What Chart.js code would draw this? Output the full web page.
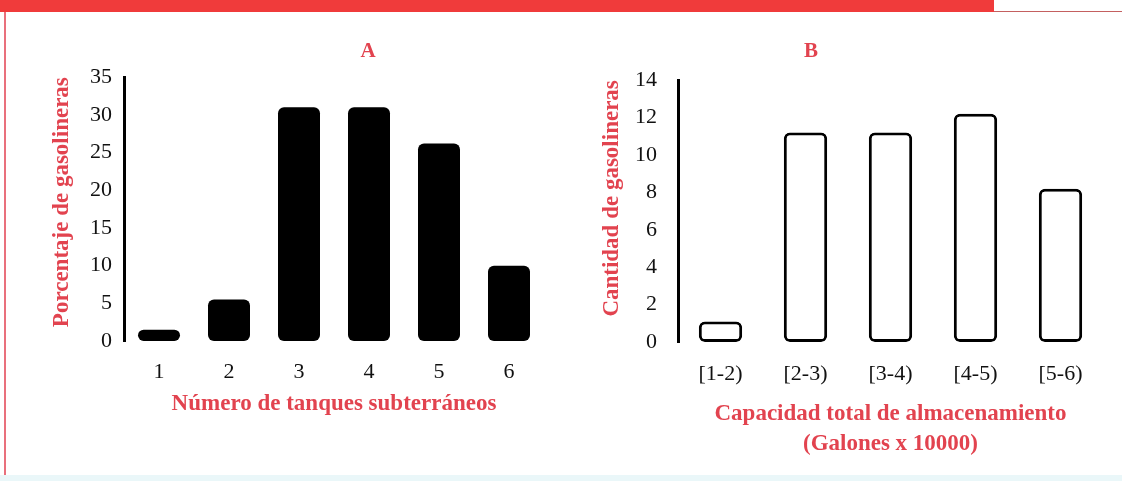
<!DOCTYPE html>
<html>
<head>
<meta charset="utf-8">
<script src="https://cdn.jsdelivr.net/npm/chart.js@4.4.1/dist/chart.umd.min.js"></script>
<style>
  html, body { margin: 0; padding: 0; background: #fff; }
  body { width: 1122px; height: 481px; position: relative; overflow: hidden; }
  .head { position: absolute; left: 0; top: 0; width: 994px; height: 12px; background: #f03b3b; }
  .headline { position: absolute; left: 994px; top: 11px; width: 128px; height: 1px; background: #c46060; }
  .side { position: absolute; left: 4px; top: 12px; width: 2px; height: 464px; background: #e9707c; }
  .foot { position: absolute; left: 0; top: 475px; width: 1122px; height: 6px; background: #eaf7f9; }
  #chartA { position: absolute; left: 40px; top: 30px; }
  #chartB { position: absolute; left: 519px; top: 30px; }
</style>
</head>
<body>
<div class="head"></div>
<div class="headline"></div>
<div class="side"></div>
<div class="foot"></div>
<canvas id="chartA" width="656" height="388"></canvas>
<canvas id="chartB" width="603" height="429"></canvas>
<script>
// Panel A: percentage of stations by number of underground tanks
const tanques = ['1', '2', '3', '4', '5', '6'];
const porcentaje = [1.5, 5.5, 31, 31, 26.2, 10];

// Panel B: number of stations by total storage capacity
const capacidades = ['[1-2)', '[2-3)', '[3-4)', '[4-5)', '[5-6)'];
const cantidad = [1.1, 11.2, 11.2, 12.2, 8.2];

const RED = '#e2434f';
const INK = '#111';
const SERIF = '"Liberation Serif", "Times New Roman", serif';

function tickFont() {
    return { family: SERIF, size: 22, lineHeight: 1.2 };
}
function titleFont(lh) {
    return { family: SERIF, size: 23, weight: 'bold', lineHeight: lh || 1.2 };
}

new Chart(document.getElementById('chartA'), {
    type: 'bar',
    data: {
        labels: tanques,
        datasets: [{
            data: porcentaje,
            backgroundColor: '#000',
            borderRadius: 6,
            borderSkipped: false,
            barPercentage: 0.6,
            categoryPercentage: 1
        }]
    },
    options: {
        responsive: false,
        animation: false,
        plugins: {
            legend: { display: false },
            tooltip: { enabled: false },
            title: {
                display: true,
                text: 'A',
                color: RED,
                font: { family: SERIF, size: 21, weight: 'bold', lineHeight: 1.2 },
                padding: { top: 9, bottom: 13 }
            }
        },
        scales: {
            x: {
                grid: { display: false },
                border: { display: false },
                ticks: { color: INK, font: tickFont(), padding: 10 },
                title: {
                    display: true,
                    text: 'Número de tanques subterráneos',
                    color: RED,
                    font: titleFont(),
                    padding: { top: 8, bottom: 0 }
                },
                afterFit: function(scale) { scale.height = 77; }
            },
            y: {
                min: 0,
                max: 35,
                grid: { display: false },
                border: { display: true, color: '#000', width: 3 },
                ticks: { stepSize: 5, color: INK, font: tickFont(), padding: 4 },
                title: {
                    display: true,
                    text: 'Porcentaje de gasolineras',
                    align: 'end',
                    color: RED,
                    font: titleFont(),
                    padding: { top: 8, bottom: 0 }
                },
                afterFit: function(scale) { scale.width = 84; }
            },
            // empty box on the right so the panel title sits where it does in the figure
            spacer: {
                type: 'linear',
                position: 'right',
                grid: { display: false },
                border: { display: false },
                ticks: { display: false },
                afterFit: function(scale) { scale.width = 152; }
            }
        }
    }
});

new Chart(document.getElementById('chartB'), {
    type: 'bar',
    data: {
        labels: capacidades,
        datasets: [{
            data: cantidad,
            backgroundColor: '#fff',
            borderColor: '#000',
            borderWidth: 3,
            borderRadius: 6,
            borderSkipped: false,
            barPercentage: 0.51,
            categoryPercentage: 1
        }]
    },
    options: {
        responsive: false,
        animation: false,
        layout: { padding: { right: 19 } },
        plugins: {
            legend: { display: false },
            tooltip: { enabled: false },
            title: {
                display: true,
                text: 'B',
                color: RED,
                font: { family: SERIF, size: 21, weight: 'bold', lineHeight: 1.2 },
                padding: { top: 9, bottom: 16 }
            }
        },
        scales: {
            x: {
                grid: { display: false },
                border: { display: false },
                ticks: { color: INK, font: tickFont(), padding: 11 },
                title: {
                    display: true,
                    text: ['Capacidad total de almacenamiento', '(Galones x 10000)'],
                    color: RED,
                    font: titleFont(1.3),
                    padding: { top: 13, bottom: 0 }
                },
                afterFit: function(scale) { scale.height = 117; }
            },
            y: {
                min: 0,
                max: 14,
                grid: { display: false },
                border: { display: true, color: '#000', width: 3 },
                ticks: { stepSize: 2, color: INK, font: tickFont(), padding: 13 },
                title: {
                    display: true,
                    text: 'Cantidad de gasolineras',
                    align: 'end',
                    color: RED,
                    font: titleFont(),
                    padding: { top: 79, bottom: 0 }
                },
                afterFit: function(scale) { scale.width = 159; }
            }
        }
    }
});
</script>
</body>
</html>
